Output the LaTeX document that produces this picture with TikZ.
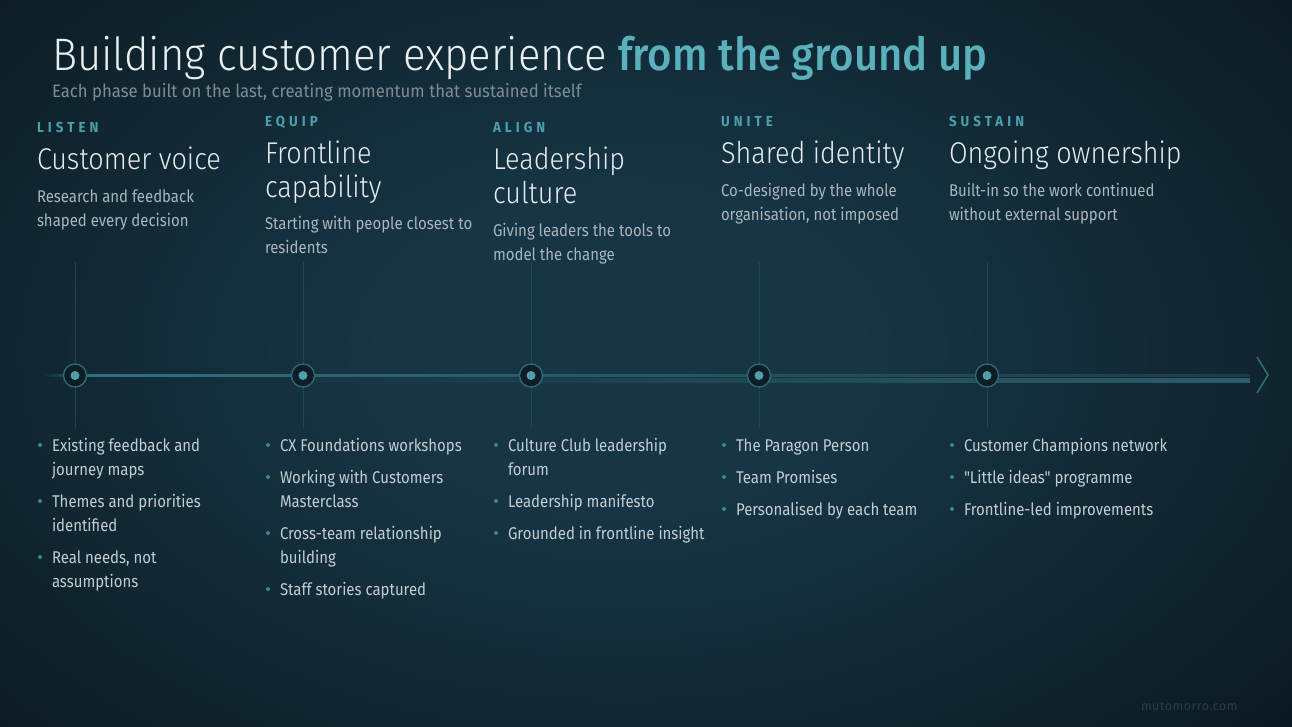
\documentclass[tikz,border=0pt]{standalone}
\usepackage{fontspec}
\setmainfont{Fira Sans}[FakeStretch=0.88]
\newfontfamily\quotefont{Fira Sans}[FakeStretch=0.88,Ligatures=TeXOff]
\newfontfamily\subtitlefont{Fira Sans}[FakeStretch=0.93]
\newfontfamily\lightfont{Fira Sans Light}[FakeStretch=0.9]
\newfontfamily\titlefont{Fira Sans Light}[FakeStretch=0.92]
\newfontfamily\titleaccent{Fira Sans Medium}[FakeStretch=0.92]
\newfontfamily\labelfont{Fira Sans}[LetterSpace=28,FakeStretch=0.92]
\newfontfamily\footfont{Fira Sans}[LetterSpace=4]
\definecolor{bgdark}{HTML}{09131B}
\definecolor{bgmidtwo}{HTML}{10252F}
\definecolor{bgmid}{HTML}{163545}
\definecolor{titlewhite}{HTML}{E9EFF1}
\definecolor{titleteal}{HTML}{5AB0BB}
\definecolor{subgray}{HTML}{7F8C94}
\definecolor{labelteal}{HTML}{4D9FAB}
\definecolor{headwhite}{HTML}{E6ECEE}
\definecolor{subtext}{HTML}{AAB6BD}
\definecolor{bullettext}{HTML}{C3CDD2}
\definecolor{bulletdot}{HTML}{3D8591}
\definecolor{vline}{HTML}{1F4651}
\definecolor{tline}{HTML}{30707C}
\definecolor{tlinedim}{HTML}{1C3D47}
\definecolor{band}{HTML}{2E5D67}
\definecolor{ring}{HTML}{2F6C78}
\definecolor{ringfill}{HTML}{0E1D26}
\definecolor{dotfill}{HTML}{4E9FAB}
\definecolor{footcol}{HTML}{2A3F4B}
\pgfdeclareradialshading{bgglow}{\pgfpoint{0bp}{0bp}}{color(0bp)=(bgmid); color(6bp)=(bgmid); color(16bp)=(bgmidtwo); color(25bp)=(bgdark); color(50bp)=(bgdark)}
\begin{document}
\begin{tikzpicture}[x=1pt,y=-1pt,
  every node/.style={inner sep=0pt,outer sep=0pt,anchor=base west},
  titletext/.style={font=\titlefont\fontsize{45.5}{52}\selectfont,text=titlewhite},
  subtitletext/.style={font=\subtitlefont\fontsize{18}{21}\selectfont,text=subgray},
  phasetext/.style={font=\labelfont\bfseries\fontsize{14.5}{17}\selectfont,text=labelteal},
  headtext/.style={font=\lightfont\fontsize{30}{34}\selectfont,text=headwhite},
  subtextstyle/.style={font=\fontsize{17}{20}\selectfont,text=subtext},
  bullettextstyle/.style={font=\fontsize{17}{20}\selectfont,text=bullettext},
  bulletdotstyle/.style={circle,fill=bulletdot,minimum size=4pt,anchor=center},
  ringstyle/.style={circle,draw=ring,line width=1.3pt,fill=ringfill,minimum size=23pt,anchor=center},
  innerdotstyle/.style={circle,fill=dotfill,minimum size=9pt,anchor=center},
  vlinestyle/.style={draw=vline,line width=1pt},
  footstyle/.style={font=\footfont\fontsize{12.5}{15}\selectfont,text=footcol}
]
\useasboundingbox (0,0) rectangle (1292,727);
\fill[bgdark] (0,0) rectangle (1292,727);
\begin{scope}
\clip (0,0) rectangle (1292,727);
\shade[shading=bgglow] (620,350) ellipse (1000pt and 640pt);
\end{scope}

% vertical guide lines
\foreach \i/\x in {1/75,2/303,3/531,4/759,5/987}{
  \coordinate (vt\i) at (\x,262);
  \coordinate (vb\i) at (\x,428);
  \draw[vlinestyle] (vt\i) -- (vb\i);
}
% timeline
\coordinate (tl) at (40,375);
\coordinate (tm) at (90,375);
\coordinate (tr) at (1250,375);
\shade[left color=bgmidtwo, right color=tline] (40,374) rectangle (90,376.2);
\shade[left color=tline, right color=tlinedim] (90,374) rectangle (1250,376.2);
\shade[left color=bgmid, right color=band] (300,378) rectangle (1250,382);
\coordinate (chtop) at (1257,357);
\coordinate (chtip) at (1268,375);
\coordinate (chbot) at (1257,393);
\draw[draw=tline,line width=1.5pt] (chtop) -- (chtip) -- (chbot);

% timeline nodes
\foreach \i/\x in {1/75,2/303,3/531,4/759,5/987}{
  \node[ringstyle] (n\i) at (\x,375.5) {};
  \node[innerdotstyle] (d\i) at (n\i.center) {};
}

% title
\node[titletext] (title) at (52,71) {Building customer experience {\titleaccent\color{titleteal}from the ground up}};
\node[subtitletext] (subtitle) at (52,98) {Each phase built on the last, creating momentum that sustained itself};

% column 1
\node[phasetext] (p1) at (37,133) {LISTEN};
\node[headtext] (h1a) at (37,170) {Customer voice};
\node[subtextstyle] (s1a) at (37,203) {Research and feedback};
\node[subtextstyle] (s1b) at (37,227) {shaped every decision};
\node[bulletdotstyle] (b1a) at (40,445) {};
\node[bullettextstyle] (t1a) at (52,451) {Existing feedback and};
\node[bullettextstyle] (t1b) at (52,475) {journey maps};
\node[bulletdotstyle] (b1b) at (40,501) {};
\node[bullettextstyle] (t1c) at (52,507) {Themes and priorities};
\node[bullettextstyle] (t1d) at (52,531) {identified};
\node[bulletdotstyle] (b1c) at (40,557) {};
\node[bullettextstyle] (t1e) at (52,563) {Real needs, not};
\node[bullettextstyle] (t1f) at (52,587) {assumptions};

% column 2
\node[phasetext] (p2) at (265,127) {EQUIP};
\node[headtext] (h2a) at (265,164) {Frontline};
\node[headtext] (h2b) at (265,198) {capability};
\node[subtextstyle] (s2a) at (265,230) {Starting with people closest to};
\node[subtextstyle] (s2b) at (265,254) {residents};
\node[bulletdotstyle] (b2a) at (268,445) {};
\node[bullettextstyle] (t2a) at (280,451) {CX Foundations workshops};
\node[bulletdotstyle] (b2b) at (268,477) {};
\node[bullettextstyle] (t2b) at (280,483) {Working with Customers};
\node[bullettextstyle] (t2c) at (280,507) {Masterclass};
\node[bulletdotstyle] (b2c) at (268,533) {};
\node[bullettextstyle] (t2d) at (280,539) {Cross-team relationship};
\node[bullettextstyle] (t2e) at (280,563) {building};
\node[bulletdotstyle] (b2d) at (268,589) {};
\node[bullettextstyle] (t2f) at (280,595) {Staff stories captured};

% column 3
\node[phasetext] (p3) at (493,133) {ALIGN};
\node[headtext] (h3a) at (493,170) {Leadership};
\node[headtext] (h3b) at (493,204) {culture};
\node[subtextstyle] (s3a) at (493,237) {Giving leaders the tools to};
\node[subtextstyle] (s3b) at (493,261) {model the change};
\node[bulletdotstyle] (b3a) at (496,445) {};
\node[bullettextstyle] (t3a) at (508,451) {Culture Club leadership};
\node[bullettextstyle] (t3b) at (508,475) {forum};
\node[bulletdotstyle] (b3b) at (496,501) {};
\node[bullettextstyle] (t3c) at (508,507) {Leadership manifesto};
\node[bulletdotstyle] (b3c) at (496,533) {};
\node[bullettextstyle] (t3d) at (508,539) {Grounded in frontline insight};

% column 4
\node[phasetext] (p4) at (721,127) {UNITE};
\node[headtext] (h4a) at (721,164) {Shared identity};
\node[subtextstyle] (s4a) at (721,197) {Co-designed by the whole};
\node[subtextstyle] (s4b) at (721,221) {organisation, not imposed};
\node[bulletdotstyle] (b4a) at (724,445) {};
\node[bullettextstyle] (t4a) at (736,451) {The Paragon Person};
\node[bulletdotstyle] (b4b) at (724,477) {};
\node[bullettextstyle] (t4b) at (736,483) {Team Promises};
\node[bulletdotstyle] (b4c) at (724,509) {};
\node[bullettextstyle] (t4c) at (736,515) {Personalised by each team};

% column 5
\node[phasetext] (p5) at (949,127) {SUSTAIN};
\node[headtext] (h5a) at (949,164) {Ongoing ownership};
\node[subtextstyle] (s5a) at (949,197) {Built-in so the work continued};
\node[subtextstyle] (s5b) at (949,221) {without external support};
\node[bulletdotstyle] (b5a) at (952,445) {};
\node[bullettextstyle] (t5a) at (964,451) {Customer Champions network};
\node[bulletdotstyle] (b5b) at (952,477) {};
\node[bullettextstyle,font=\quotefont\fontsize{17}{20}\selectfont] (t5b) at (964,483) {"Little ideas" programme};
\node[bulletdotstyle] (b5c) at (952,509) {};
\node[bullettextstyle] (t5c) at (964,515) {Frontline-led improvements};

% footer
\node[footstyle] (foot) at (1141,710) {mutomorro.com};
\end{tikzpicture}
\end{document}
